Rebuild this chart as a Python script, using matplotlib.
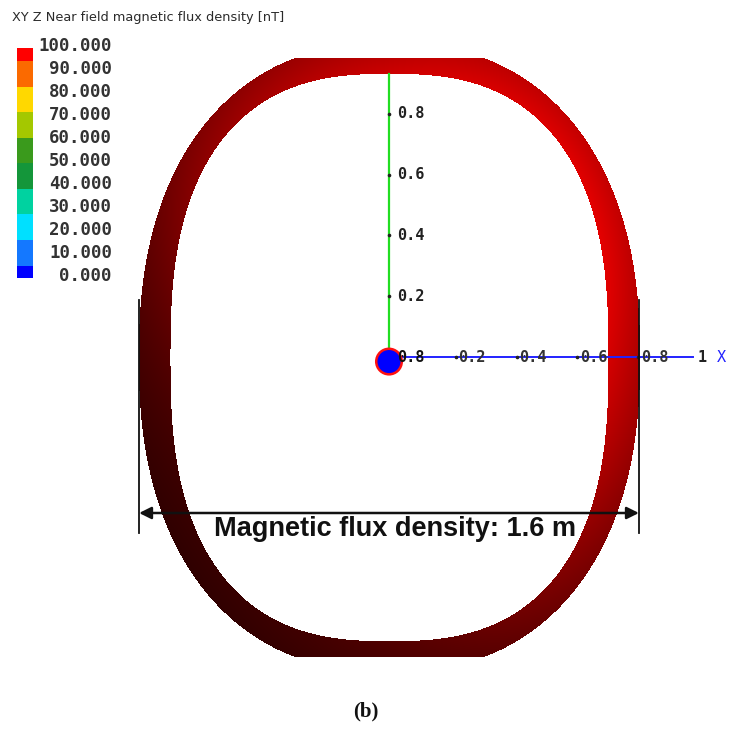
import numpy as np
import matplotlib
matplotlib.use('Agg')
import matplotlib.pyplot as plt
from matplotlib.patches import Circle
from matplotlib.transforms import blended_transform_factory

# ---- data ----
title_text = 'XY Z Near field magnetic flux density [nT]'
legend_ticks = [100, 90, 80, 70, 60, 50, 40, 30, 20, 10, 0]
legend_labels = ['%.3f' % v for v in legend_ticks]
legend_colors = ['#ff0000', '#fb6a00', '#ffd800', '#a4c800', '#3a9a1c',
                 '#14963a', '#00d2a0', '#00e0ff', '#1478ff', '#0000ff']

x_ticks = [0.2, 0.4, 0.6, 0.8]
y_ticks = [0.2, 0.4, 0.6, 0.8]
x_axis_end = 1.0
y_axis_end = 0.93

# ring (outer / inner super-ellipse, metres), flat cut top and bottom
outer_a, outer_b, outer_n = 0.826, 1.035, 2.3
inner_a, inner_b, inner_n = 0.722, 0.933, 2.6
ring_cut = 0.985
ring_yc = -0.004

dim_label = 'Magnetic flux density: 1.6 m'
dim_half = 0.822
caption = '(b)'

# ---- figure: 732x735 px, 304 px per metre, origin at pixel (389, 357) ----
W, H, DPI = 732, 735, 100
S = 304.0
ox, oy = 389, 357
fig = plt.figure(figsize=(W / DPI, H / DPI), dpi=DPI)
ax = fig.add_axes([0, 0, 1, 1])
ax.set_xlim(-ox / S, (W - ox) / S)
ax.set_ylim(-(H - oy) / S, oy / S)
ax.axis('off')

# ring shaded image
xs = np.arange(-0.87, 0.87, 1 / S)
ys = np.arange(-1.05, 1.05, 1 / S)
X, Y = np.meshgrid(xs, ys)
Yc = Y - ring_yc
f_out = (np.abs(X) / outer_a) ** outer_n + (np.abs(Yc) / outer_b) ** outer_n
f_in = (np.abs(X) / inner_a) ** inner_n + (np.abs(Yc) / inner_b) ** inner_n
mask = (f_out <= 1) & (f_in > 1) & (np.abs(Yc) <= ring_cut)
theta = np.arctan2(Yc, X)
s = 0.5 + 0.5 * np.cos(theta - np.pi / 4)
base = 0.22 + 0.68 * s
rn = f_out ** (1 / outer_n)
t = np.clip((1 - rn) / 0.13, 0, 1)
v = np.clip(base * (0.85 + 0.2 * t), 0, 1)
rgba = np.zeros(X.shape + (4,))
rgba[..., 0] = v
rgba[..., 3] = mask.astype(float)
ax.imshow(rgba, extent=[xs[0], xs[-1], ys[0], ys[-1]], origin='lower',
          interpolation='nearest', zorder=1, aspect='auto')

# axes lines
ax.plot([0, 0], [0, y_axis_end], color='#22dd22', lw=1.6, zorder=3)
ax.plot([0, x_axis_end], [0, 0], color='#2222ff', lw=1.4, zorder=3)
mono = 'DejaVu Sans Mono'
for yt in y_ticks:
    ax.plot(0, yt, marker='o', ms=1.6, color='#222222', zorder=4)
    ax.text(0.027, yt, '%.1f' % yt, ha='left', va='center', fontsize=11,
            family=mono, fontweight='bold', color='#222222', zorder=5)
for xt in x_ticks:
    ax.plot(xt + 0.02, 0, marker='o', ms=1.6, color='#222222', zorder=4)
    ax.text(xt + 0.028, 0, '%.1f' % xt, ha='left', va='center', fontsize=11,
            family=mono, fontweight='bold', color='#333333', zorder=5)
ax.text(x_axis_end + 0.015, 0, '1', ha='left', va='center', fontsize=11,
        family=mono, fontweight='bold', color='#222222', zorder=5)
ax.text(x_axis_end + 0.08, 0, 'X', ha='left', va='center', fontsize=11,
        family=mono, color='#2222ff', zorder=5)
# label at origin
ax.text(0.027, 0, '0.8', ha='left', va='center', fontsize=11,
        family=mono, color='#111111', fontweight='bold', zorder=6)
ax.add_patch(Circle((0, -0.015), 0.042, facecolor='#0000ff',
                    edgecolor='#ff1010', lw=1.8, zorder=5))

# dimension line
dim_y = (oy - 513) / S
ext_top, ext_bot = (oy - 300) / S, (oy - 533) / S
for xe in (-dim_half, dim_half):
    ax.plot([xe, xe], [ext_bot, ext_top], color='#111111', lw=1.3, zorder=6)
ax.annotate('', xy=(-dim_half, dim_y), xytext=(dim_half, dim_y),
            arrowprops=dict(arrowstyle='<|-|>', color='#111111', lw=1.8,
                            mutation_scale=18, shrinkA=0, shrinkB=0), zorder=6)
ax.text(0.02, (oy - 516) / S, dim_label, ha='center', va='top', fontsize=19.5,
        fontweight='bold', family='Liberation Sans', color='#111111', zorder=7)

# title and caption
fig.text(12 / W, 1 - 18 / H, title_text, ha='left', va='center', fontsize=9.3,
         family='DejaVu Sans', color='#2a2a2a')
fig.text(366 / W, 1 - 711 / H, caption, ha='center', va='center', fontsize=15,
         fontweight='bold', family='Liberation Serif', color='#111111')

# legend colour bar
top_px, bot_px = 48.3, 278.3
ax_leg = fig.add_axes([17 / W, 1 - bot_px / H, 16 / W, (bot_px - top_px) / H])
ax_leg.set_xlim(0, 1)
ax_leg.set_ylim(0, 100)
ax_leg.axis('off')
centers = np.linspace(100, 0, len(legend_colors))
step = centers[0] - centers[1]
for c, col in zip(centers, legend_colors):
    lo, hi = max(c - step / 2, 0), min(c + step / 2, 100)
    ax_leg.bar(0.5, hi - lo, bottom=lo, width=1, color=col, edgecolor='none')
tr = blended_transform_factory(ax_leg.transAxes, ax_leg.transData)
for val, lab in zip(legend_ticks, legend_labels):
    ax_leg.text((112 - 17) / 16, val + 1.0, lab, ha='right', va='center',
                fontsize=12.5, family=mono, fontweight='bold', color='#333333',
                transform=tr, clip_on=False)

fig.savefig('out.png', dpi=DPI)
